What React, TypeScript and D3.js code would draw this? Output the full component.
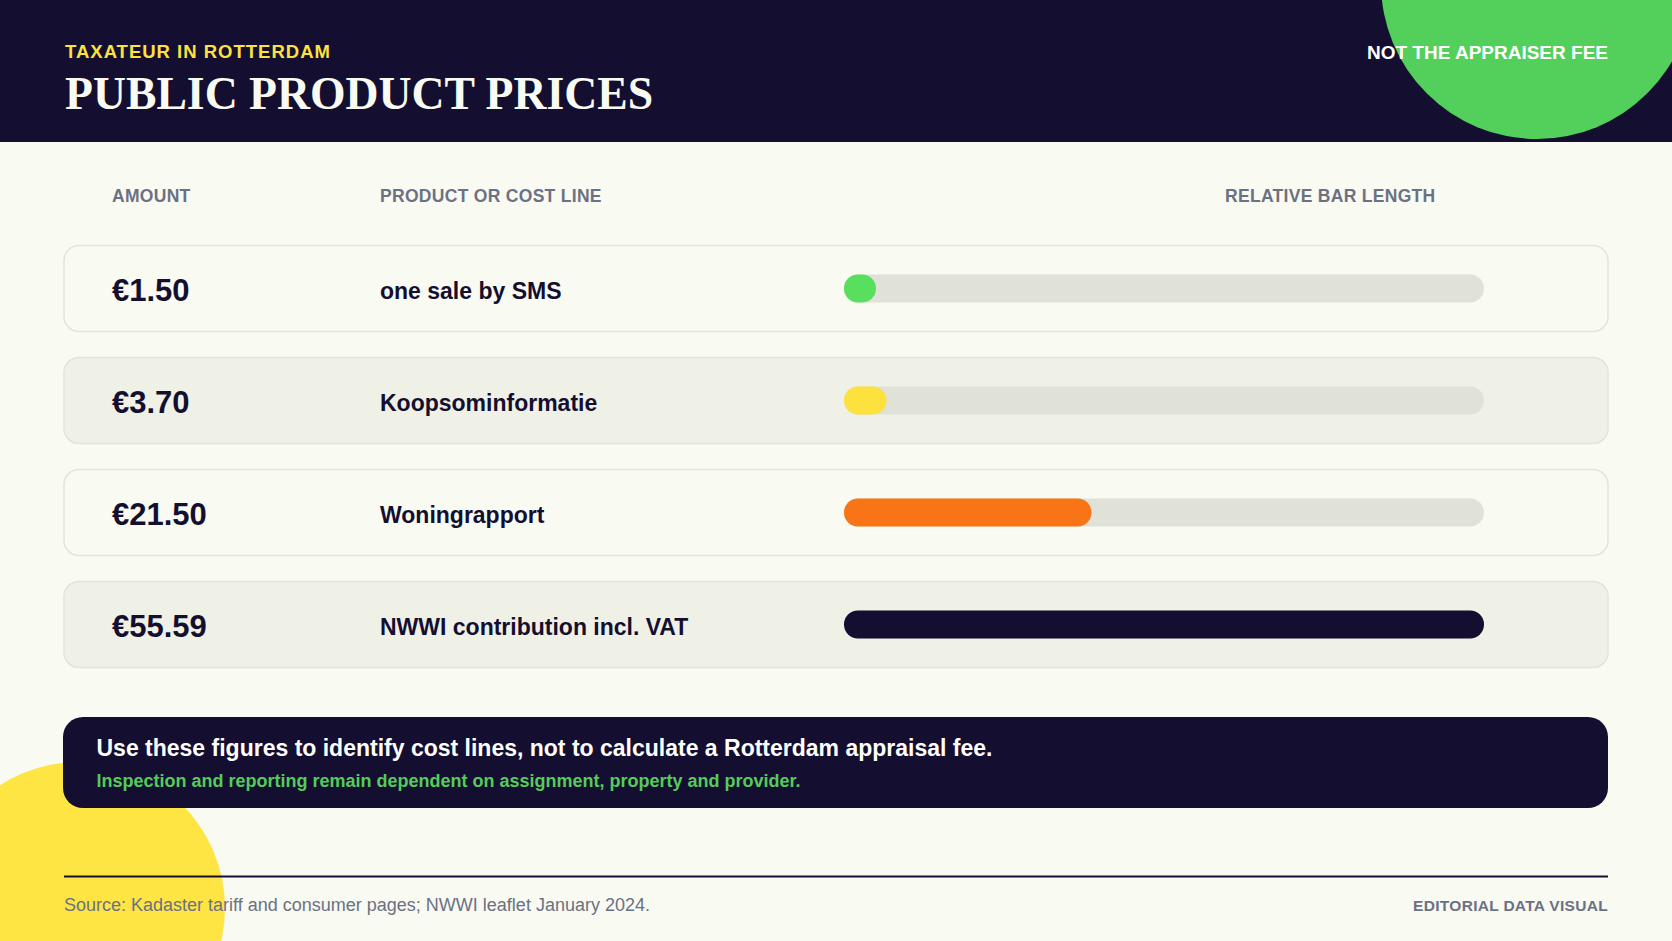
import React from "react";
import * as d3 from "d3";

const amounts = [1.5, 3.7, 21.5, 55.59];
const amountLabels = ["€1.50", "€3.70", "€21.50", "€55.59"];
const products = ["one sale by SMS", "Koopsominformatie", "Woningrapport", "NWWI contribution incl. VAT"];
const barColors = ["#58df5e", "#fde23e", "#f97416", "#140f30"];
const columnHeaders = ["AMOUNT", "PRODUCT OR COST LINE", "RELATIVE BAR LENGTH"];

const W = 1672;
const H = 941;
const SANS = "'Liberation Sans', Arial, Helvetica, sans-serif";
const SERIF = "'Liberation Serif', 'Times New Roman', serif";
const NAVY = "#140f30";
const BG = "#f9faf1";
const GREY = "#6b7183";

export default function App() {
  const rowY = d3
    .scaleBand<number>()
    .domain(d3.range(amounts.length))
    .range([245.5, 667.5])
    .paddingInner(26 / 112)
    .paddingOuter(0);
  const trackX0 = 844;
  const trackW = 640;
  const x = d3.scaleLinear().domain([0, d3.max(amounts) as number]).range([0, trackW]);
  const barH = 28;

  return (
    <svg
      width={W}
      height={H}
      viewBox={`0 0 ${W} ${H}`}
      style={{ position: "absolute", left: 0, top: 0, display: "block" }}
    >
      <defs>
        <clipPath id="hdrClip">
          <rect x={0} y={0} width={W} height={142} />
        </clipPath>
        <clipPath id="pageClip">
          <rect x={0} y={0} width={W} height={H} />
        </clipPath>
      </defs>
      <rect x={0} y={0} width={W} height={H} fill={BG} />
      {/* yellow decorative circle */}
      <g clipPath="url(#pageClip)">
        <circle cx={79} cy={908} r={146} fill="#fee544" />
      </g>
      {/* header */}
      <rect x={0} y={0} width={W} height={142} fill={NAVY} />
      <g clipPath="url(#hdrClip)">
        <circle cx={1537} cy={-17} r={156} fill="#53cf5b" />
      </g>
      <text x={65} y={57.5} fill="#fde23e" fontFamily={SANS} fontWeight={700} fontSize={18.5} letterSpacing={1}>
        TAXATEUR IN ROTTERDAM
      </text>
      <text x={65} y={109} fill="#f9faf1" fontFamily={SERIF} fontWeight={700} fontSize={45.7}>
        PUBLIC PRODUCT PRICES
      </text>
      <text x={1608} y={58.5} fill="#ffffff" fontFamily={SANS} fontWeight={700} fontSize={19} textAnchor="end">
        NOT THE APPRAISER FEE
      </text>

      {/* column headers */}
      <g fontFamily={SANS} fontWeight={700} fontSize={17.5} fill={GREY} letterSpacing={0.3}>
        <text x={112} y={202}>{columnHeaders[0]}</text>
        <text x={380} y={202}>{columnHeaders[1]}</text>
        <text x={1225} y={202}>{columnHeaders[2]}</text>
      </g>

      {/* rows */}
      {amounts.map((v, i) => {
        const y0 = rowY(i) as number;
        const bw = rowY.bandwidth();
        const cy = y0 + bw / 2;
        const w = Math.max(x(v), 32);
        return (
          <g key={i}>
            <rect
              x={64}
              y={y0}
              width={1544}
              height={bw}
              rx={15}
              fill={i % 2 === 1 ? "#f0f1e6" : "#f9faf1"}
              stroke="#e3e4da"
              strokeWidth={1.5}
            />
            <text x={112} y={cy + 12.5} fontFamily={SANS} fontWeight={700} fontSize={31} fill={NAVY}>
              {amountLabels[i]}
            </text>
            <text x={380} y={cy + 10.5} fontFamily={SANS} fontWeight={700} fontSize={23} fill={NAVY}>
              {products[i]}
            </text>
            <rect x={trackX0} y={cy - barH / 2} width={trackW} height={barH} rx={barH / 2} fill="#e0e1d8" />
            <rect x={trackX0} y={cy - barH / 2} width={w} height={barH} rx={barH / 2} fill={barColors[i]} />
          </g>
        );
      })}

      {/* callout */}
      <rect x={63} y={717} width={1545} height={91} rx={20} fill={NAVY} />
      <text x={96.5} y={755.5} fill="#ffffff" fontFamily={SANS} fontWeight={700} fontSize={23}>
        Use these figures to identify cost lines, not to calculate a Rotterdam appraisal fee.
      </text>
      <text x={96.5} y={786.5} fill="#55cc5a" fontFamily={SANS} fontWeight={700} fontSize={18}>
        Inspection and reporting remain dependent on assignment, property and provider.
      </text>

      {/* footer */}
      <line x1={64} x2={1608} y1={876.5} y2={876.5} stroke={NAVY} strokeWidth={2} />
      <text x={64} y={911} fill={GREY} fontFamily={SANS} fontSize={18}>
        Source: Kadaster tariff and consumer pages; NWWI leaflet January 2024.
      </text>
      <text x={1608} y={911} fill={GREY} fontFamily={SANS} fontWeight={700} fontSize={15.5} textAnchor="end" letterSpacing={0.3}>
        EDITORIAL DATA VISUAL
      </text>
    </svg>
  );
}
